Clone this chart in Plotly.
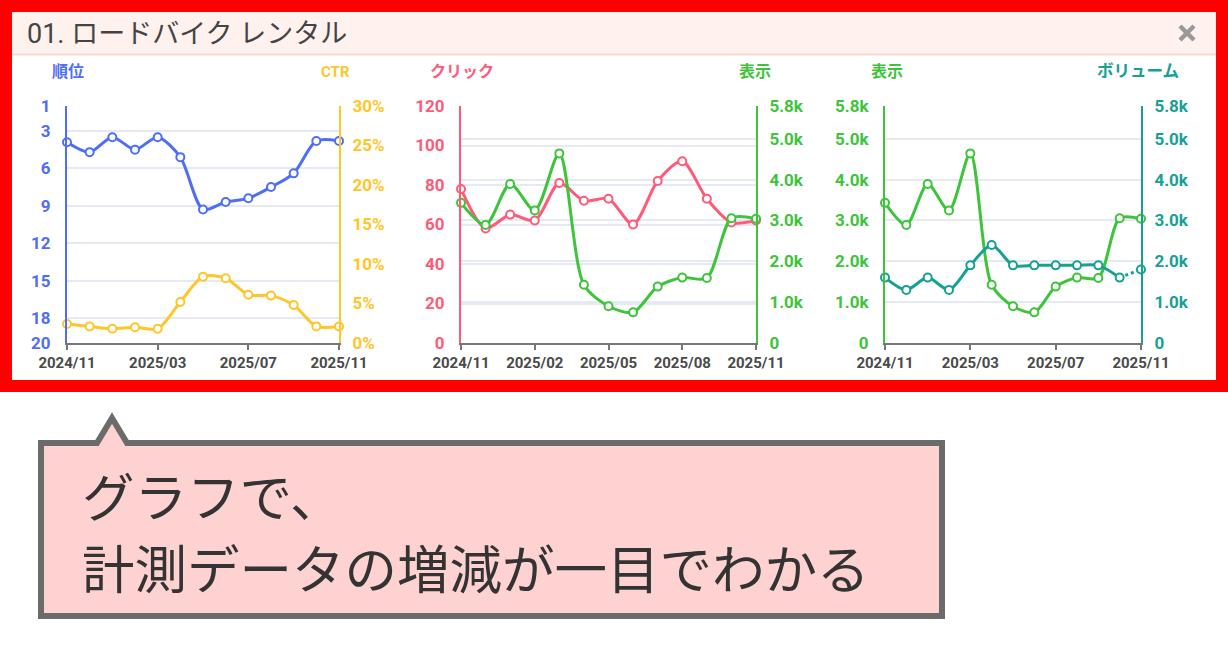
import plotly.graph_objects as go

# ---- data -------------------------------------------------------------
MONTHS = ["2024/11", "2024/12", "2025/01", "2025/02", "2025/03", "2025/04", "2025/05",
          "2025/06", "2025/07", "2025/08", "2025/09", "2025/10", "2025/11"]
RANK = [3.9, 4.7, 3.5, 4.5, 3.5, 5.1, 9.3, 8.7, 8.4, 7.5, 6.4, 3.8, 3.8]
CTR = [2.4, 2.1, 1.8, 2.0, 1.8, 5.2, 8.4, 8.2, 6.1, 6.0, 4.8, 2.1, 2.1]
CLICKS = [78, 58, 65, 62, 81, 72, 73, 60, 82, 92, 73, 61, 62]
IMPRESSIONS = [3430, 2890, 3890, 3245, 4640, 1425, 900, 750, 1380, 1600, 1590, 3055, 3040]
VOLUME = [1600, 1300, 1600, 1300, 1900, 2400, 1900, 1900, 1900, 1900, 1900, 1600, 1800]

RANK_TICKS = [1, 3, 6, 9, 12, 15, 18, 20]
CTR_TICKS = [0, 5, 10, 15, 20, 25, 30]
CLICK_TICKS = [0, 20, 40, 60, 80, 100, 120]
K_TICKS = [0, 1000, 2000, 3000, 4000, 5000, 5800]
K_LABELS = ["0", "1.0k", "2.0k", "3.0k", "4.0k", "5.0k", "5.8k"]
X_TICKS_4M = ["2024/11", "2025/03", "2025/07", "2025/11"]
X_TICKS_3M = ["2024/11", "2025/02", "2025/05", "2025/08", "2025/11"]

TITLE = "01. ロードバイク レンタル"
CAPTION = ["グラフで、", "計測データの増減が一目でわかる"]

# ---- styling -----------------------------------------------------------
W, H = 1228, 650
BLUE = "#4f6ef7"
YELLOW = "#ffc629"
RED = "#ff5a78"
GREEN = "#3ec43b"
TEAL = "#17a094"
GRID = "#e4e9f4"
AXIS_GREY = "#777777"
NUM_FONT = "Roboto, Arial, sans-serif"
JP_FONT = "Roboto, Noto Sans CJK JP, sans-serif"


def px(x):
    return x / W


def py(y):
    return 1 - y / H


def series(y, color, xaxis, yaxis, dash="solid", markers=True, x=MONTHS):
    return go.Scatter(
        x=x, y=y, xaxis=xaxis, yaxis=yaxis,
        mode="lines+markers" if markers else "lines",
        line=dict(color=color, width=3, shape="spline", smoothing=0.8, dash=dash),
        marker=dict(size=8, color="white", line=dict(color=color, width=2)),
        cliponaxis=False, showlegend=False, hoverinfo="skip",
    )


def x_axis(x0, x1, anchor, ticks):
    return dict(
        domain=[px(x0), px(x1)], anchor=anchor, type="category", automargin=False,
        categoryorder="array", categoryarray=MONTHS, range=[0, len(MONTHS) - 1],
        tickvals=ticks, ticktext=ticks, showgrid=False, zeroline=False,
        showline=True, linecolor=AXIS_GREY, linewidth=2,
        ticks="outside", ticklen=5, tickwidth=2, tickcolor=AXIS_GREY,
        tickfont=dict(family=NUM_FONT, size=15, color="#4a4a4a", weight="bold"),
        fixedrange=True,
    )


def y_axis(anchor, color, rng, tickvals, ticktext, side="left", grid=True, overlaying=None):
    d = dict(
        domain=[py(343), py(106)], anchor=anchor, side=side, range=rng, automargin=False,
        tickmode="array", tickvals=tickvals, ticktext=ticktext,
        showgrid=grid, gridcolor=GRID, gridwidth=2, zeroline=False,
        showline=True, linecolor=color, linewidth=2, ticks="",
        ticklabelstandoff=11 if side == "left" else 8,
        tickfont=dict(family=NUM_FONT, size=17, color=color, weight="bold"),
        fixedrange=True,
    )
    if overlaying:
        d["overlaying"] = overlaying
    return d


fig = go.Figure()

# chart 1: rank (left, reversed) and CTR (right)
fig.add_trace(series(RANK, BLUE, "x", "y"))
fig.add_trace(series(CTR, YELLOW, "x", "y2"))
# chart 2: clicks (left) and impressions (right)
fig.add_trace(series(CLICKS, RED, "x2", "y3"))
fig.add_trace(series(IMPRESSIONS, GREEN, "x2", "y4"))
# chart 3: impressions (left) and search volume (right, last month estimated)
fig.add_trace(series(IMPRESSIONS, GREEN, "x3", "y5"))
fig.add_trace(series(VOLUME[-2:], TEAL, "x3", "y6", dash="dot", markers=False, x=MONTHS[-2:]))
fig.add_trace(go.Scatter(
    x=MONTHS[:-1], y=VOLUME[:-1], xaxis="x3", yaxis="y6", mode="lines+markers",
    line=dict(color=TEAL, width=3, shape="spline", smoothing=0.8),
    marker=dict(size=8, color="white", line=dict(color=TEAL, width=2)),
    cliponaxis=False, showlegend=False, hoverinfo="skip"))
fig.add_trace(go.Scatter(
    x=MONTHS[-1:], y=VOLUME[-1:], xaxis="x3", yaxis="y6", mode="markers",
    marker=dict(size=8, color="white", line=dict(color=TEAL, width=2)),
    cliponaxis=False, showlegend=False, hoverinfo="skip"))

rank_txt = [str(v) for v in RANK_TICKS]
ctr_txt = [f"{v}%" for v in CTR_TICKS]
click_txt = [str(v) for v in CLICK_TICKS]

fig.update_layout(
    width=W, height=H, autosize=False,
    margin=dict(l=0, r=0, t=0, b=0, pad=0, autoexpand=False),
    paper_bgcolor="white", plot_bgcolor="rgba(0,0,0,0)",
    xaxis=x_axis(67, 339, "y", X_TICKS_4M),
    xaxis2=x_axis(461, 756, "y3", X_TICKS_3M),
    xaxis3=x_axis(885, 1141, "y5", X_TICKS_4M),
    yaxis=y_axis("x", BLUE, [20, 1], RANK_TICKS, rank_txt),
    yaxis2=y_axis("x", YELLOW, [0, 30], CTR_TICKS, ctr_txt, side="right", grid=False, overlaying="y"),
    yaxis3=y_axis("x2", RED, [0, 120], CLICK_TICKS, click_txt),
    yaxis4=y_axis("x2", GREEN, [0, 5800], K_TICKS, K_LABELS, side="right", overlaying="y3"),
    yaxis5=y_axis("x3", GREEN, [0, 5800], K_TICKS, K_LABELS),
    yaxis6=y_axis("x3", TEAL, [0, 5800], K_TICKS, K_LABELS, side="right", grid=False, overlaying="y5"),
)

# ---- frame, header and caption bubble --------------------------------------
shapes = [
    dict(type="rect", xref="paper", yref="paper", layer="below",
         x0=px(12), x1=px(1216), y0=py(54), y1=py(12),
         fillcolor="#fff1ee", line=dict(width=0)),
    dict(type="line", xref="paper", yref="paper", layer="below",
         x0=px(12), x1=px(1216), y0=py(54.5), y1=py(54.5),
         line=dict(color="#fbd8ce", width=2)),
    dict(type="rect", xref="paper", yref="paper",
         x0=px(6), x1=px(1222), y0=py(386), y1=py(6),
         fillcolor="rgba(0,0,0,0)", line=dict(color="#ff0000", width=12)),
    # close icon
    dict(type="line", xref="paper", yref="paper",
         x0=px(1180), x1=px(1194), y0=py(26), y1=py(40),
         line=dict(color="#999999", width=4.5)),
    dict(type="line", xref="paper", yref="paper",
         x0=px(1180), x1=px(1194), y0=py(40), y1=py(26),
         line=dict(color="#999999", width=4.5)),
]

bubble_pts = [(41, 443), (97, 443), (112, 418), (127, 443), (942, 443), (942, 616), (41, 616)]
path = "M " + " L ".join(f"{px(a):.5f},{py(b):.5f}" for a, b in bubble_pts) + " Z"
shapes.append(dict(type="path", xref="paper", yref="paper", path=path,
                   fillcolor="#ffd2d2", line=dict(color="#6b6b6b", width=6)))


def label(text, x, y, anchor, size, color, family=JP_FONT, weight="bold"):
    return dict(text=text, x=px(x), y=py(y), xref="paper", yref="paper",
                xanchor=anchor, yanchor="middle", showarrow=False, align="left",
                font=dict(family=family, size=size, color=color, weight=weight))


annotations = [
    label(TITLE, 25, 34, "left", 27, "#444444", weight="normal"),
    label("順位", 50, 72, "left", 16, BLUE),
    label("CTR", 352, 72, "right", 15, YELLOW, family=NUM_FONT),
    label("クリック", 428, 72, "left", 16, RED),
    label("表示", 773, 72, "right", 16, GREEN),
    label("表示", 869, 72, "left", 16, GREEN),
    label("ボリューム", 1181, 72, "right", 16.5, TEAL),
    label(CAPTION[0], 80, 494, "left", 52.5, "#333333",
          family="Noto Sans CJK JP, sans-serif", weight="normal"),
    label(CAPTION[1], 80, 566, "left", 52.5, "#333333",
          family="Noto Sans CJK JP, sans-serif", weight="normal"),
]

fig.update_layout(shapes=shapes, annotations=annotations)
fig.write_html("out.html", config=dict(displayModeBar=False, staticPlot=True))
